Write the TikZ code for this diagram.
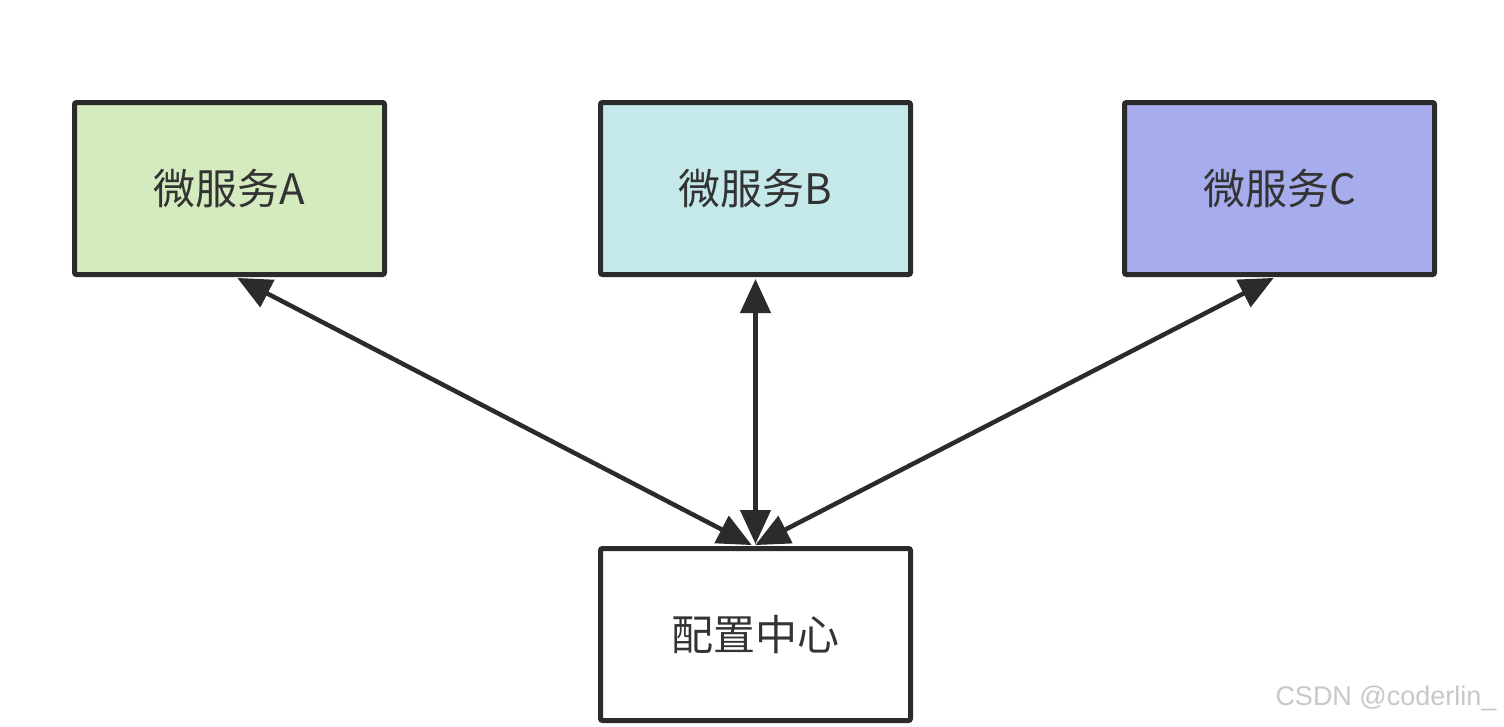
\documentclass[tikz,border=0pt]{standalone}
\usepackage{fontspec}
\newfontfamily\cjk{Noto Sans CJK SC}
\setmainfont{Liberation Sans}
\usetikzlibrary{arrows.meta,calc}
\definecolor{edge}{HTML}{2B2B2B}
\definecolor{txt}{HTML}{333333}
\definecolor{fillA}{HTML}{D3EBBE}
\definecolor{fillB}{HTML}{C5E9EA}
\definecolor{fillC}{HTML}{A7ACEC}
\definecolor{wm}{HTML}{C8C8C8}
\tikzset{
  svc/.style={draw=edge, line width=5pt, rounded corners=2pt, minimum width=310pt, minimum height=172pt,
    inner sep=0pt, text=txt, font=\cjk\fontsize{42}{48}\selectfont},
  link/.style={draw=edge, line width=4.5pt,
    {Triangle[length=34pt,width=30pt]}-{Triangle[length=34pt,width=30pt]}, shorten <=2pt, shorten >=2pt}
}
\begin{document}
\begin{tikzpicture}[x=1pt,y=-1pt]
\useasboundingbox (0,0) rectangle (1504,726);
\fill[white] (0,0) rectangle (1504,726);
\node[svc, fill=fillA] (A) at (229.5,188.5) {微服务A};
\node[svc, fill=fillB] (B) at (755.5,188.5) {微服务B};
\node[svc, fill=fillC] (C) at (1279.5,188.5) {微服务C};
\node[svc, fill=white] (cfg) at (755.5,634.5) {配置中心};
\coordinate (a1) at ($(A.south)+(6,0)$);
\coordinate (c1) at ($(C.south)+(-4,0)$);
\coordinate (t) at ($(cfg.north)+(-2,0)$);
\draw[link] (a1) -- (t);
\draw[link] (B.south) -- (cfg.north);
\draw[link] (c1) -- (t);
\node[text=wm, font=\fontsize{27}{30}\selectfont, anchor=east] (wmk) at (1500,698) {CSDN @coderlin\_};
\end{tikzpicture}
\end{document}
